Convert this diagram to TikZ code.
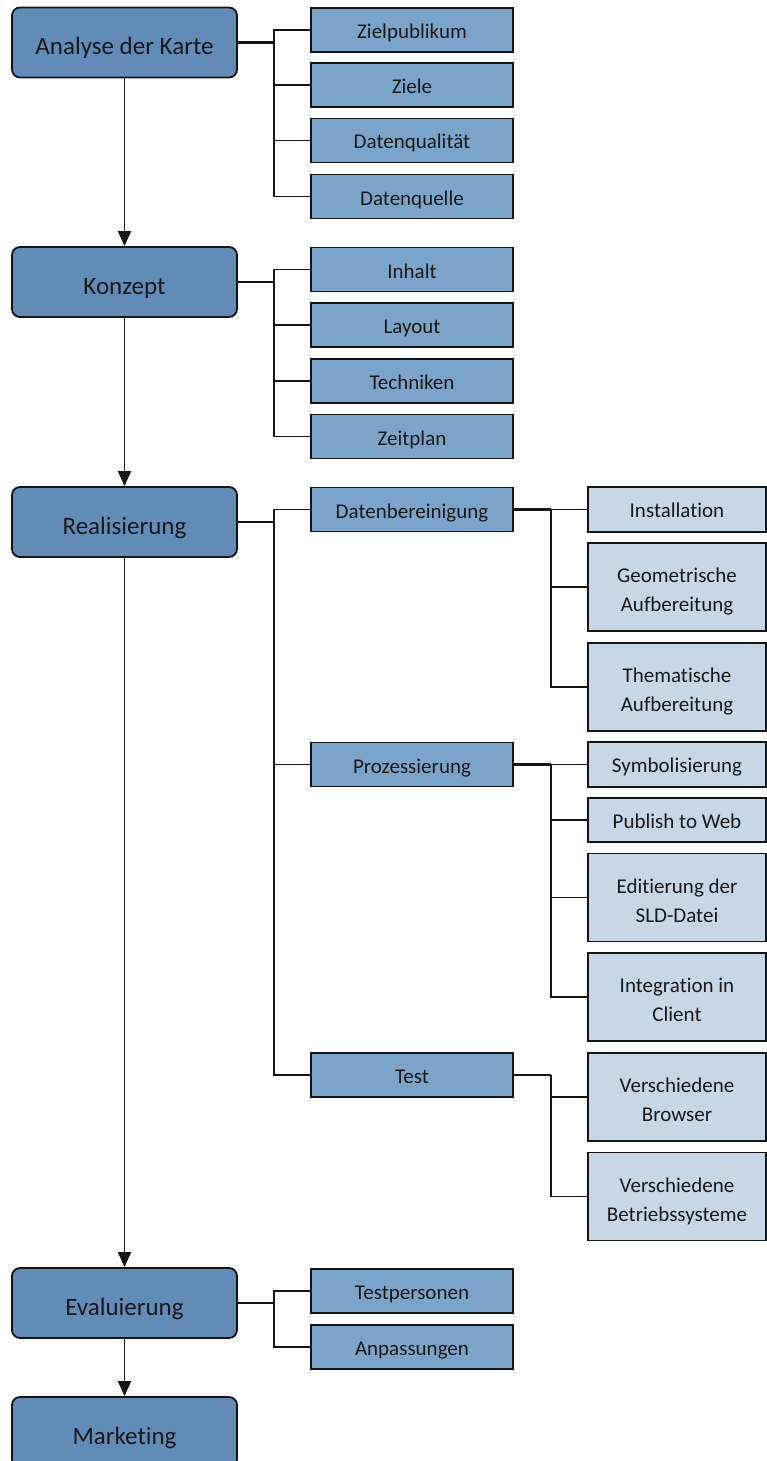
\documentclass[tikz,border=0pt]{standalone}
\usepackage{fontspec}
\setmainfont{Carlito}[Ligatures={NoCommon,NoRequired,NoContextual}]
\usetikzlibrary{arrows.meta}
\definecolor{mainfill}{RGB}{98,139,184}
\definecolor{subfill}{RGB}{124,164,200}
\definecolor{leaffill}{RGB}{198,215,232}
\definecolor{edge}{RGB}{20,20,20}
\newcommand\firstln{\rule{0pt}{24pt}}
\newcommand\lastln{\rule[-4pt]{0pt}{4pt}}
\tikzset{
  mainbox/.style={draw=edge, line width=1.8pt, fill=mainfill, rounded corners=8pt,
    minimum width=225pt, minimum height=70pt, inner sep=0pt,
    text height=26pt, text depth=2pt,
    font=\fontsize{25}{30}\selectfont, text=black!90},
  subbox/.style={draw=edge, line width=1.8pt, fill=subfill,
    minimum width=202pt, minimum height=44pt, inner sep=0pt,
    text height=20pt, text depth=3pt,
    font=\fontsize{21}{29}\selectfont, text=black!90},
  leafbox/.style={draw=edge, line width=1.8pt, fill=leaffill,
    minimum width=178pt, inner sep=0pt, align=center,
    font=\fontsize{21}{29}\selectfont, text=black!90},
  oneline/.style={text height=19pt, text depth=3pt},
  stub/.style={draw=edge, line width=2.2pt},
  branch/.style={draw=edge, line width=1.4pt},
  flow/.style={draw=edge, line width=1.8pt, -{Triangle[width=13pt,length=15pt]}}
}
\begin{document}
\begin{tikzpicture}[x=1pt,y=-1pt]
\useasboundingbox (0,0) rectangle (767,1461);
\clip (0,0) rectangle (767,1461);
% main boxes
\node[mainbox] (a1) at (124.5,42.5) {Analyse der Karte};
\node[mainbox] (a2) at (124.5,282) {Konzept};
\node[mainbox] (a3) at (124.5,522) {Realisierung};
\node[mainbox] (a4) at (124.5,1303) {Evaluierung};
\node[mainbox] (a5) at (124.5,1432) {Marketing};
% second level
\node[subbox] (b1) at (412,30) {Zielpublikum};
\node[subbox] (b2) at (412,85) {Ziele};
\node[subbox] (b3) at (412,140.5) {Datenqualität};
\node[subbox] (b4) at (412,196.5) {Datenquelle};
\node[subbox] (c1) at (412,269.5) {Inhalt};
\node[subbox] (c2) at (412,325) {Layout};
\node[subbox] (c3) at (412,381) {Techniken};
\node[subbox] (c4) at (412,436.5) {Zeitplan};
\node[subbox] (d1) at (412,509.5) {Datenbereinigung};
\node[subbox] (d2) at (412,764.5) {Prozessierung};
\node[subbox] (d3) at (412,1075) {Test};
\node[subbox] (e1) at (412,1291) {Testpersonen};
\node[subbox] (e2) at (412,1347) {Anpassungen};
% third level
\node[leafbox, oneline, minimum height=45pt] (f1) at (677,509.5) {Installation};
\node[leafbox, minimum height=88pt] (f2) at (677,587) {\firstln Geometrische\\Aufbereitung\lastln};
\node[leafbox, minimum height=88pt] (f3) at (677,687) {\firstln Thematische\\Aufbereitung\lastln};
\node[leafbox, oneline, minimum height=45pt] (g1) at (677,764.5) {Symbolisierung};
\node[leafbox, oneline, minimum height=44pt] (g2) at (677,820) {Publish to Web};
\node[leafbox, minimum height=88pt] (g3) at (677,897.5) {\firstln Editierung der\\SLD-Datei\lastln};
\node[leafbox, minimum height=88pt] (g4) at (677,997) {\firstln Integration in\\Client\lastln};
\node[leafbox, minimum height=88pt] (h1) at (677,1097) {\firstln Verschiedene\\Browser\lastln};
\node[leafbox, minimum height=88pt] (h2) at (677,1196.5) {\firstln Verschiedene\\Betriebssysteme\lastln};
% flow arrows
\draw[flow] (a1.south) -- (a2.north);
\draw[flow] (a2.south) -- (a3.north);
\draw[flow] (a3.south) -- (a4.north);
\draw[flow] (a4.south) -- (a5.north);
% branches: Analyse
\draw[stub] (a1.east) -- ++(36,0) coordinate (ja);
\foreach \n in {b1,b2,b3,b4} \draw[branch] (ja) |- (\n.west);
% Konzept
\draw[stub] (a2.east) -- ++(36,0) coordinate (jb);
\foreach \n in {c1,c2,c3,c4} \draw[branch] (jb) |- (\n.west);
% Realisierung
\draw[stub] (a3.east) -- ++(36,0) coordinate (jc);
\foreach \n in {d1,d2,d3} \draw[branch] (jc) |- (\n.west);
% Datenbereinigung
\draw[stub] (d1.east) -- ++(37,0) coordinate (jd);
\foreach \n in {f1,f2,f3} \draw[branch] (jd) |- (\n.west);
% Prozessierung
\draw[stub] (d2.east) -- ++(37,0) coordinate (je);
\foreach \n in {g1,g2,g3,g4} \draw[branch] (je) |- (\n.west);
% Test
\draw[stub] (d3.east) -- ++(37,0) coordinate (jf);
\foreach \n in {h1,h2} \draw[branch] (jf) |- (\n.west);
% Evaluierung
\draw[branch] (a4.east) -- ++(36,0) coordinate (jg);
\foreach \n in {e1,e2} \draw[branch] (jg) |- (\n.west);
\end{tikzpicture}
\end{document}
